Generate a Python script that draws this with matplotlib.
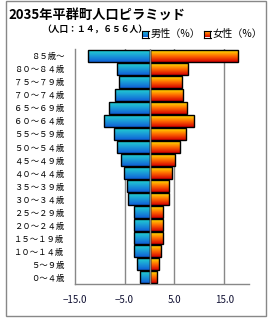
import numpy as np
import matplotlib
matplotlib.use("Agg")
import matplotlib.pyplot as plt
from matplotlib.colors import LinearSegmentedColormap
from matplotlib.patches import Rectangle

plt.rcParams["font.family"] = ["Noto Sans CJK JP", "DejaVu Sans"]

# --- データ（上から 85歳～ … 0～4歳） ---
age_labels = [
    "８５歳～", "８０～８４歳", "７５～７９歳", "７０～７４歳", "６５～６９歳",
    "６０～６４歳", "５５～５９歳", "５０～５４歳", "４５～４９歳", "４０～４４歳",
    "３５～３９歳", "３０～３４歳", "２５～２９歳", "２０～２４歳", "１５～１９歳",
    "１０～１４歳", "５～９歳", "０～４歳",
]
male_pct = [12.3, 6.5, 6.1, 6.9, 8.1, 9.1, 7.1, 6.5, 5.7, 5.1,
            4.6, 4.3, 3.2, 3.2, 3.2, 3.1, 2.5, 1.9]
female_pct = [17.7, 7.7, 6.5, 6.7, 7.5, 8.9, 7.3, 6.1, 5.1, 4.5,
              3.9, 3.9, 2.7, 2.7, 2.7, 2.3, 1.9, 1.5]
x_ticks = [-15, -5, 5, 15]

title = "2035年平群町人口ピラミッド"
subtitle = "（人口：１４，６５６人）"

# グラデーション（下 → 上）
male_cmap = LinearSegmentedColormap.from_list("male", ["#0f5fd6", "#1a9ad8", "#22d2d0"])
female_cmap = LinearSegmentedColormap.from_list("female", ["#d40000", "#ff6a00", "#ffe400"])
grad = np.linspace(0, 1, 64).reshape(-1, 1)


def gradient_bars(ax, bars, cmap):
    for p in bars:
        x0 = p.get_x()
        x1 = x0 + p.get_width()
        y0 = p.get_y()
        y1 = y0 + p.get_height()
        im = ax.imshow(grad, extent=[min(x0, x1), max(x0, x1), y0, y1],
                       aspect="auto", cmap=cmap, origin="lower", zorder=2)
        im.set_clip_path(p)


fig = plt.figure(figsize=(2.7, 3.2), dpi=100)
ax = fig.add_axes([0.277, 0.113, 0.646, 0.733])

n = len(age_labels)
ypos = np.arange(n)[::-1]  # 85歳～ が一番上

m_bars = ax.barh(ypos, -np.array(male_pct), height=0.92, facecolor="none",
                 edgecolor="black", linewidth=1.0, zorder=3)
f_bars = ax.barh(ypos, female_pct, height=0.92, facecolor="none",
                 edgecolor="black", linewidth=1.0, zorder=3)
gradient_bars(ax, m_bars, male_cmap)
gradient_bars(ax, f_bars, female_cmap)

# グリッド線・軸
for xv in x_ticks[1:]:
    ax.axvline(xv, color="#888888", linewidth=1.0, zorder=1)
ax.axvline(0, color="#888888", linewidth=1.0, zorder=4)

ax.set_xlim(-15, 20)
ax.set_ylim(-0.5, n - 0.5)
ax.set_xticks(x_ticks)
ax.set_xticklabels([f"{v:.1f}".replace("-", "\u2212") for v in x_ticks],
                   fontsize=7, color="#111133")
ax.set_yticks(ypos)
ax.set_yticklabels(age_labels, fontsize=6.0)
ax.tick_params(axis="x", length=0, pad=8)
ax.tick_params(axis="y", length=0, pad=7.5)

for s in ["top", "right"]:
    ax.spines[s].set_visible(False)
for s in ["left", "bottom"]:
    ax.spines[s].set_color("#888888")
    ax.spines[s].set_linewidth(1.0)

# タイトル
fig.text(8 / 270, 1 - 14.5 / 320, title, fontsize=9.5, fontweight="bold",
         ha="left", va="center")
fig.text(42 / 270, 1 - 29.5 / 320, subtitle, fontsize=6.3, fontweight="bold",
         ha="left", va="center")

# 凡例
for sx, cmap, label in [(142, male_cmap, "男性（%）"), (204, female_cmap, "女性（%）")]:
    lax = fig.add_axes([sx / 270, 1 - 37.5 / 320, 6.5 / 270, 6.5 / 320])
    lax.imshow(grad, aspect="auto", cmap=cmap, origin="lower")
    lax.set_xticks([])
    lax.set_yticks([])
    for s in lax.spines.values():
        s.set_color("black")
        s.set_linewidth(0.8)
    fig.text((sx + 8.5) / 270, 1 - 33.5 / 320, label, fontsize=7.3,
             ha="left", va="center")

# 外枠
fig.patches.append(Rectangle((6 / 270, 4 / 320), 260 / 270, 315 / 320,
                             transform=fig.transFigure, fill=False,
                             edgecolor="#888888", linewidth=1.0))

fig.savefig("out.png", dpi=100)
